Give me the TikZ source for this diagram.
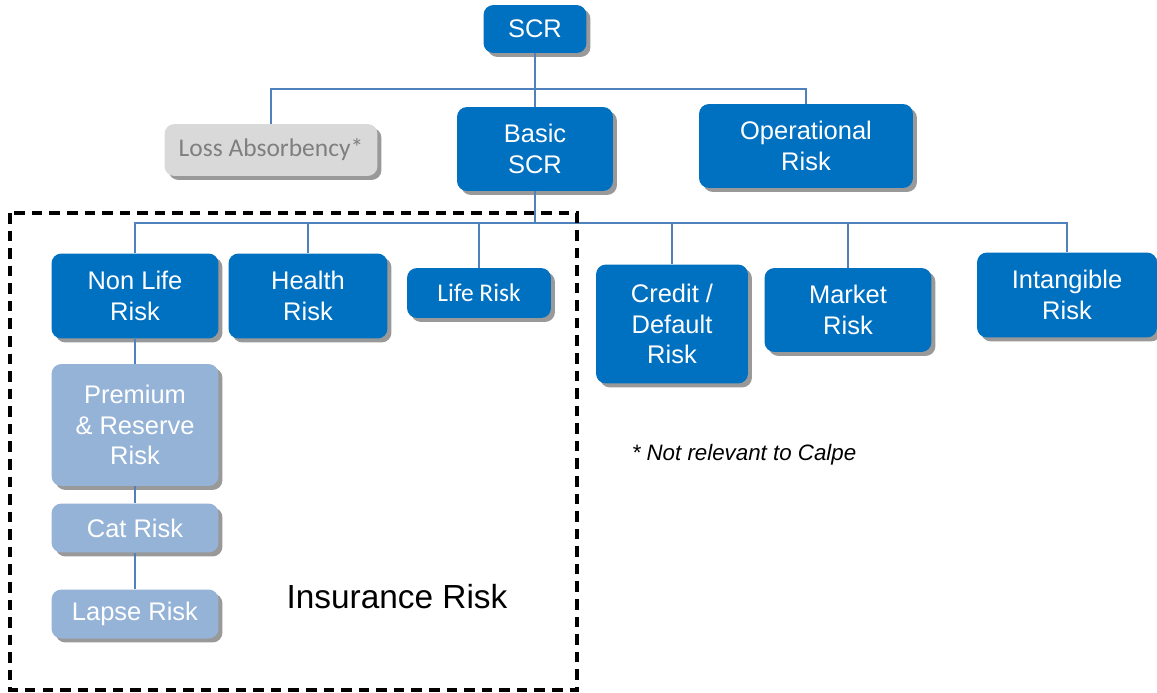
\documentclass[tikz,border=0pt]{standalone}
\usepackage{fontspec}
\setmainfont{Liberation Sans}
\newfontfamily\calibri{Carlito}
\usepackage{tikz}
\usetikzlibrary{shadows}
\definecolor{scrblue}{HTML}{0070C0}
\definecolor{subblue}{HTML}{95B3D7}
\definecolor{linkblue}{HTML}{4F81BD}
\definecolor{boxgray}{HTML}{D9D9D9}
\definecolor{textgray}{HTML}{7F7F7F}
\tikzset{
  riskbox/.style={rounded corners=0.2cm, fill=scrblue, text=white, align=center, inner sep=0pt,
    font=\fontsize{14.5}{17.5}\selectfont,
    drop shadow={shadow xshift=0.08cm, shadow yshift=-0.08cm, fill=black, opacity=0.4}},
  subbox/.style={riskbox, fill=subblue},
  boxsize/.style 2 args={minimum width=#1cm, minimum height=#2cm},
  link/.style={draw=linkblue, line width=0.8pt},
}

\begin{document}
\begin{tikzpicture}[x=0.02cm, y=-0.02cm]
    \useasboundingbox (0,0) rectangle (1157,693);

    % top levels
    \node[riskbox, boxsize={2.06}{0.96}] at (535, 29) (scr) {SCR};
    \node[riskbox, boxsize={4.26}{1.04}, fill=boxgray, text=textgray, font=\calibri\fontsize{14.5}{17.5}\selectfont] at (271, 150) (loss) {Loss Absorbency*};
    \node[riskbox, boxsize={3.12}{1.68}] at (535, 149) (basic) {Basic\\SCR};
    \node[riskbox, boxsize={4.28}{1.68}] at (806, 146) (op) {Operational\\Risk};

    % modules under basic SCR
    \node[riskbox, boxsize={3.34}{1.70}] at (135, 296) (nonlife) {Non Life\\Risk};
    \node[riskbox, boxsize={3.18}{1.70}] at (308, 296) (health) {Health\\Risk};
    \node[riskbox, boxsize={2.88}{1.00}, font=\calibri\fontsize{14.5}{17.5}\selectfont] at (479, 293) (life) {Life Risk};
    \node[riskbox, boxsize={3.04}{2.38}] at (672, 324) (credit) {Credit /\\Default\\Risk};
    \node[riskbox, boxsize={3.34}{1.68}] at (848, 310) (market) {Market\\Risk};
    \node[riskbox, boxsize={3.60}{1.70}] at (1067, 295) (intang) {Intangible\\Risk};

    % non life sub-modules
    \node[subbox, boxsize={3.34}{2.44}] at (135, 425) (prem) {Premium\\\& Reserve\\Risk};
    \node[subbox, boxsize={3.34}{0.98}] at (135, 528) (cat) {Cat Risk};
    \node[subbox, boxsize={3.34}{0.98}] at (135, 614) (lapse) {Lapse Risk};

    % connectors
    \coordinate (top) at (535, 89);
    \coordinate (bus) at (535, 223);
    \draw[link] (scr) -- (basic);
    \draw[link] (loss) |- (top) -| (op);
    \draw[link] (basic) -- (bus);
    \foreach \n in {nonlife, health, life, credit, market, intang}
        \draw[link] (bus) -| (\n);
    \draw[link] (nonlife) -- (prem);
    \draw[link] (prem) -- (cat);
    \draw[link] (cat) -- (lapse);

    % insurance block
    \draw[line width=2.4pt, dash pattern=on 6pt off 4pt] (10, 213) rectangle (577, 690);
    \node[font=\fontsize{19}{22}\selectfont] at (397, 597) (ins) {Insurance Risk};
    \node[font=\itshape\fontsize{12.7}{15}\selectfont] at (744, 455) (note) {* Not relevant to Calpe};
\end{tikzpicture}
\end{document}
